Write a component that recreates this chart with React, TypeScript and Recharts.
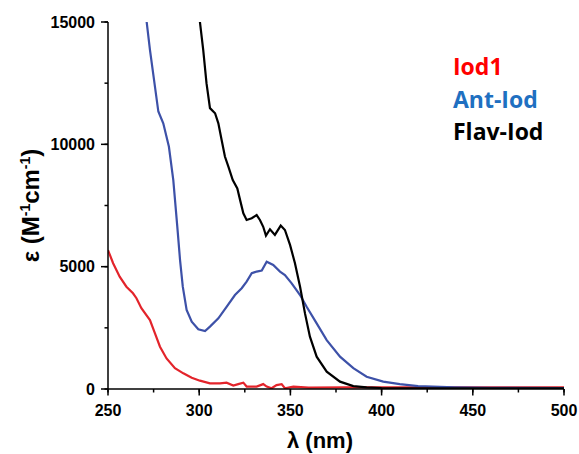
import React from 'react';
import {LineChart, Line, XAxis, YAxis, Legend} from 'recharts';

// wavelength (nm) / epsilon (M-1 cm-1)
const iod1 = [
  {wl: 250, eps: 5680}, {wl: 252.8, eps: 5140}, {wl: 256.4, eps: 4590}, {wl: 260.1, eps: 4180},
  {wl: 263.7, eps: 3910}, {wl: 265.6, eps: 3710}, {wl: 268.3, eps: 3300}, {wl: 273, eps: 2820},
  {wl: 275.7, eps: 2280}, {wl: 278.5, eps: 1730}, {wl: 282.1, eps: 1250}, {wl: 286.7, eps: 850},
  {wl: 291.3, eps: 640}, {wl: 295.9, eps: 460}, {wl: 300.4, eps: 340}, {wl: 305.9, eps: 230},
  {wl: 311.4, eps: 230}, {wl: 315, eps: 260}, {wl: 318.7, eps: 140}, {wl: 321.4, eps: 200},
  {wl: 324.2, eps: 260}, {wl: 326, eps: 100}, {wl: 331.5, eps: 100}, {wl: 335.1, eps: 200},
  {wl: 337, eps: 100}, {wl: 339.7, eps: 30}, {wl: 342.4, eps: 160}, {wl: 345.2, eps: 200},
  {wl: 347, eps: 30}, {wl: 351.6, eps: 100}, {wl: 360, eps: 60}, {wl: 380, eps: 70},
  {wl: 420, eps: 70}, {wl: 460, eps: 70}, {wl: 500, eps: 70},
];

const antIod = [
  {wl: 270.5, eps: 15800}, {wl: 271.2, eps: 15000}, {wl: 273, eps: 13860}, {wl: 277.6, eps: 11340},
  {wl: 280.3, eps: 10860}, {wl: 283.4, eps: 9900}, {wl: 285.8, eps: 8540}, {wl: 288, eps: 6630},
  {wl: 289.5, eps: 5270}, {wl: 291, eps: 4180}, {wl: 293.1, eps: 3230}, {wl: 295.9, eps: 2750},
  {wl: 299.5, eps: 2440}, {wl: 303.2, eps: 2370}, {wl: 305.9, eps: 2550}, {wl: 310.5, eps: 2890},
  {wl: 315, eps: 3360}, {wl: 319.6, eps: 3840}, {wl: 323.3, eps: 4120}, {wl: 326, eps: 4390},
  {wl: 328.8, eps: 4730}, {wl: 331.5, eps: 4800}, {wl: 334.3, eps: 4840}, {wl: 337, eps: 5200},
  {wl: 340.6, eps: 5070}, {wl: 344.3, eps: 4800}, {wl: 347, eps: 4660}, {wl: 350.7, eps: 4320},
  {wl: 355.3, eps: 3840}, {wl: 358.9, eps: 3360}, {wl: 364.4, eps: 2680}, {wl: 369.9, eps: 2000},
  {wl: 377.2, eps: 1320}, {wl: 384.5, eps: 850}, {wl: 391.8, eps: 500}, {wl: 400.9, eps: 300},
  {wl: 410, eps: 200}, {wl: 420, eps: 120}, {wl: 440, eps: 70}, {wl: 460, eps: 50}, {wl: 500, eps: 40},
];

const flavIod = [
  {wl: 299.8, eps: 15800}, {wl: 300.4, eps: 15000}, {wl: 302.2, eps: 13860}, {wl: 304, eps: 12500},
  {wl: 305.9, eps: 11480}, {wl: 308.7, eps: 11270}, {wl: 310.5, eps: 10860}, {wl: 312.3, eps: 10180},
  {wl: 314.1, eps: 9500}, {wl: 316, eps: 9090}, {wl: 318.4, eps: 8540}, {wl: 320.9, eps: 8200},
  {wl: 322.4, eps: 7730}, {wl: 324.2, eps: 7180}, {wl: 326, eps: 6910}, {wl: 328.8, eps: 6980},
  {wl: 331.5, eps: 7110}, {wl: 333.3, eps: 6910}, {wl: 335.1, eps: 6630}, {wl: 336.6, eps: 6270},
  {wl: 338.8, eps: 6530}, {wl: 341.5, eps: 6300}, {wl: 344.7, eps: 6680}, {wl: 347, eps: 6500},
  {wl: 349.8, eps: 5890}, {wl: 352.5, eps: 5140}, {wl: 355.3, eps: 4180}, {wl: 358, eps: 3090},
  {wl: 360.7, eps: 2140}, {wl: 364.4, eps: 1320}, {wl: 369.9, eps: 710}, {wl: 377.2, eps: 300},
  {wl: 384.5, eps: 120}, {wl: 391.8, eps: 70}, {wl: 400, eps: 40}, {wl: 450, eps: 30}, {wl: 500, eps: 30},
];

const xTicks = [250, 275, 300, 325, 350, 375, 400, 425, 450, 475, 500];
const yTicks = [0, 2500, 5000, 7500, 10000, 12500, 15000];

const seriesNames = ['Iod1', 'Ant-Iod', 'Flav-Iod'];
const lineColors = ['#e3242b', '#3d51a8', '#000000'];
const legendColors = ['#ff0000', '#1f70c1', '#000000'];

const TICK_FONT = '"Liberation Sans", Arial, sans-serif';
const MINOR = 3.5;

// minor ticks come from recharts' own tickLine, major ones get extended here
const XTick = (props) => {
  const {x, y, payload} = props;
  const axisY = y - MINOR - 6;
  const major = payload.value % 50 === 0;
  if (!major) return null;
  return (
    <g>
      <line x1={x} x2={x} y1={axisY} y2={axisY + 6.5} stroke="#000" strokeWidth={1.5}/>
      <text x={x} y={axisY + 27} textAnchor="middle" fontFamily={TICK_FONT} fontWeight="bold"
            fontSize={16} fill="#000">{payload.value}</text>
    </g>
  );
};

const YTick = (props) => {
  const {x, y, payload} = props;
  const axisX = x + MINOR + 6;
  const major = payload.value % 5000 === 0;
  if (!major) return null;
  return (
    <g>
      <line x1={axisX - 7} x2={axisX} y1={y} y2={y} stroke="#000" strokeWidth={1.5}/>
      <text x={axisX - 13} y={y} dy="0.36em" textAnchor="end" fontFamily={TICK_FONT} fontWeight="bold"
            fontSize={16} fill="#000">{payload.value}</text>
    </g>
  );
};

const YLabel = (props) => {
  const {viewBox} = props;
  const cx = 30;
  const cy = viewBox.y + viewBox.height / 2;
  return (
    <text x={cx} y={cy} transform={`rotate(-90 ${cx} ${cy})`} textAnchor="middle" dy="0.36em"
          fontFamily={TICK_FONT} fontWeight="bold" fontSize={24} fill="#000">
      ε (M<tspan fontSize={14} dy="-9">-1</tspan><tspan dy="9">cm</tspan>
      <tspan fontSize={14} dy="-9">-1</tspan><tspan dy="9">)</tspan>
    </text>
  );
};

const LegendBox = ({payload}) => {
  const items = [...(payload || [])].sort(
    (a, b) => seriesNames.indexOf(a.value) - seriesNames.indexOf(b.value));
  return (
    <div style={{fontFamily: '"Open Sans", Lato, sans-serif', fontWeight: 'bold', fontSize: 23,
      lineHeight: '32.5px'}}>
      {items.map((p) => (
        <div key={p.value} style={{color: legendColors[seriesNames.indexOf(p.value)]}}>{p.value}</div>
      ))}
    </div>
  );
};

export default function App() {
  const series = [iod1, antIod, flavIod];
  const axisLine = {stroke: '#000', strokeWidth: 1.5};
  const tickLine = {stroke: '#000', strokeWidth: 1.5};
  return (
    <div style={{position: 'absolute', left: 0, top: 0, background: '#fff'}}>
      <LineChart width={579} height={454} margin={{top: 22, right: 15, bottom: 0, left: 0}}>
        <XAxis type="number" dataKey="wl" domain={[250, 500]} ticks={xTicks} interval={0}
               allowDataOverflow height={65} tickSize={MINOR} tickMargin={6} tickLine={tickLine}
               tick={<XTick/>} axisLine={axisLine}
               label={{value: 'λ (nm)', position: 'insideBottom', offset: 6, dx: -16,
                 style: {fontFamily: TICK_FONT, fontWeight: 'bold', fontSize: 22, fill: '#000'}}}/>
        <YAxis type="number" dataKey="eps" domain={[0, 15000]} ticks={yTicks} interval={0}
               allowDataOverflow width={108} tickSize={MINOR} tickMargin={6} tickLine={tickLine}
               tick={<YTick/>} axisLine={axisLine}
               label={<YLabel/>}/>
        <Legend layout="horizontal" verticalAlign="middle" align="center" content={<LegendBox/>}
                wrapperStyle={{left: 453, top: 50, width: 'auto'}}/>
        {series.map((d, i) => (
          <Line key={seriesNames[i]} name={seriesNames[i]} data={d} dataKey="eps" type="linear"
                stroke={lineColors[i]} strokeWidth={2.2} dot={false} isAnimationActive={false}/>
        ))}
      </LineChart>
    </div>
  );
}
